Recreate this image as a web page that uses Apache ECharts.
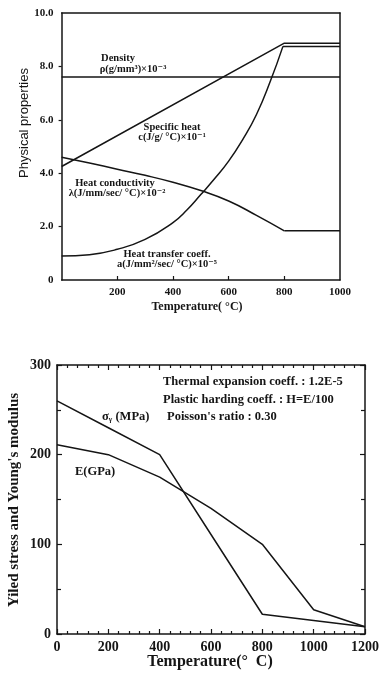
<!DOCTYPE html>
<html>
<head>
<meta charset="utf-8">
<script src="https://cdn.jsdelivr.net/npm/echarts@6/dist/echarts.min.js"></script>
<style>
  html, body { margin: 0; padding: 0; background: #fff; }
  #chart { width: 382px; height: 679px; }
</style>
</head>
<body>
<div id="chart"></div>
<script>
// ---- Upper panel: physical properties vs temperature ----
const densityTemp = [0, 1000];
const density = [7.6, 7.6];

const specHeatTemp = [0, 800, 1000];
const specHeat = [4.25, 8.87, 8.87];

const condTemp = [0, 100, 200, 300, 400, 500, 600, 700, 800];
const conductivity = [4.6, 4.38, 4.15, 3.92, 3.66, 3.35, 2.96, 2.42, 1.84];
const condFlatTemp = [800, 1000];
const condFlat = [1.84, 1.84];

const htCurveTemp = [0, 100, 200, 300, 400, 450, 500, 550, 600, 650, 700, 750, 795];
const htCurve = [0.9, 0.95, 1.15, 1.52, 2.15, 2.62, 3.2, 3.8, 4.45, 5.25, 6.2, 7.45, 8.75];
const htFlatTemp = [795, 1000];
const htFlat = [8.75, 8.75];

const topXTicks = [200, 400, 600, 800, 1000];
const topYTicks = [0, 2, 4, 6, 8, 10];

// ---- Lower panel: yield stress and Young's modulus ----
const lowTemp = [0, 200, 400, 600, 800, 1000, 1200];
const yieldStress = [260, 230, 200, 111, 22, 15, 8];
const youngsModulus = [211, 200, 175, 140, 100, 27, 8];

const pairs = (xs, ys) => xs.map((x, i) => [x, ys[i]]);

const INK = '#151515';
const SERIF = '"Liberation Serif", "DejaVu Serif", serif';
const SANS = '"Liberation Sans", "DejaVu Sans", sans-serif';

const chart = echarts.init(document.getElementById('chart'), null, { renderer: 'canvas' });

const lineStyle = { color: INK, width: 1.5 };
function lineSeries(data, xi, yi, extra) {
  return Object.assign({
    type: 'line', data: data, xAxisIndex: xi, yAxisIndex: yi,
    showSymbol: false, symbol: 'none', lineStyle: lineStyle,
    animation: false, silent: true
  }, extra || {});
}

const axisLine = { show: true, onZero: false, lineStyle: { color: INK, width: 1.5 } };

function annot(x, y, text, font, align) {
  return {
    type: 'text', x: x, y: y, silent: true,
    style: {
      text: text, font: font, fill: INK,
      textAlign: align || 'center', textVerticalAlign: 'middle'
    }
  };
}

const option = {
  backgroundColor: '#fff',
  animation: false,
  grid: [
    { left: 61.6, top: 13, width: 278.4, height: 267 },
    { left: 57, top: 365, width: 311, height: 269 }
  ],
  xAxis: [
    {
      gridIndex: 0, type: 'value', min: 0, max: 1000, interval: 200,
      axisLine: axisLine,
      axisTick: { show: true, inside: true, length: 4, lineStyle: { color: INK, width: 1.2 },
                  customValues: topXTicks.slice(0, 4) },
      axisLabel: { color: INK, fontFamily: SERIF, fontWeight: 'bold', fontSize: 11, margin: 7,
                   formatter: v => (v === 0 ? '' : String(v)) },
      splitLine: { show: false }
    },
    {
      gridIndex: 0, type: 'value', position: 'top', min: 0, max: 1000,
      axisLine: axisLine, axisTick: { show: false }, axisLabel: { show: false },
      splitLine: { show: false }
    },
    {
      gridIndex: 1, type: 'value', min: 0, max: 1200, interval: 200,
      axisLine: axisLine,
      axisTick: { show: true, inside: true, length: 5, lineStyle: { color: INK, width: 1.2 } },
      minorTick: { show: true, splitNumber: 5, length: 3, lineStyle: { color: INK, width: 1.2 } },
      axisLabel: { color: INK, fontFamily: SERIF, fontWeight: 'bold', fontSize: 14, margin: 6,
                   formatter: v => String(v) },
      splitLine: { show: false }
    },
    {
      gridIndex: 1, type: 'value', position: 'top', min: 0, max: 1200, interval: 200,
      axisLine: axisLine,
      axisTick: { show: true, inside: true, length: 5, lineStyle: { color: INK, width: 1.2 } },
      minorTick: { show: true, splitNumber: 5, length: 3, lineStyle: { color: INK, width: 1.2 } },
      axisLabel: { show: false }, splitLine: { show: false }
    }
  ],
  yAxis: [
    {
      gridIndex: 0, type: 'value', min: 0, max: 10, interval: 2,
      axisLine: axisLine,
      axisTick: { show: true, inside: false, length: 3, lineStyle: { color: INK, width: 1.2 },
                  customValues: topYTicks.slice(1, 5) },
      axisLabel: { color: INK, fontFamily: SERIF, fontWeight: 'bold', fontSize: 11, margin: 8,
                   formatter: v => (v === 0 ? '0' : v.toFixed(1)) },
      splitLine: { show: false }
    },
    {
      gridIndex: 0, type: 'value', position: 'right', min: 0, max: 10,
      axisLine: axisLine, axisTick: { show: false }, axisLabel: { show: false },
      splitLine: { show: false }
    },
    {
      gridIndex: 1, type: 'value', min: 0, max: 300, interval: 100,
      axisLine: axisLine,
      axisTick: { show: true, inside: true, length: 5, lineStyle: { color: INK, width: 1.2 } },
      minorTick: { show: true, splitNumber: 2, length: 4, lineStyle: { color: INK, width: 1.2 } },
      axisLabel: { color: INK, fontFamily: SERIF, fontWeight: 'bold', fontSize: 14, margin: 6 },
      splitLine: { show: false }
    },
    {
      gridIndex: 1, type: 'value', position: 'right', min: 0, max: 300, interval: 100,
      axisLine: axisLine,
      axisTick: { show: true, inside: true, length: 5, lineStyle: { color: INK, width: 1.2 } },
      minorTick: { show: true, splitNumber: 2, length: 4, lineStyle: { color: INK, width: 1.2 } },
      axisLabel: { show: false }, splitLine: { show: false }
    }
  ],
  series: [
    lineSeries(pairs(densityTemp, density), 0, 0),
    lineSeries(pairs(specHeatTemp, specHeat), 0, 0),
    lineSeries(pairs(condTemp, conductivity), 0, 0, { smooth: 0.5 }),
    lineSeries(pairs(condFlatTemp, condFlat), 0, 0),
    lineSeries(pairs(htCurveTemp, htCurve), 0, 0, { smooth: 0.5 }),
    lineSeries(pairs(htFlatTemp, htFlat), 0, 0),
    lineSeries(pairs(lowTemp, yieldStress), 2, 2),
    lineSeries(pairs(lowTemp, youngsModulus), 2, 2)
  ],
  graphic: [
    // upper panel curve labels
    annot(118, 58, 'Density', 'bold 10.5px ' + SERIF),
    annot(133, 69, 'ρ(g/mm³)×10⁻³', 'bold 10.5px ' + SERIF),
    annot(172, 127, 'Specific heat', 'bold 10.5px ' + SERIF),
    annot(172, 137, 'c(J/g/ °C)×10⁻¹', 'bold 10.5px ' + SERIF),
    annot(115, 183, 'Heat conductivity', 'bold 10.5px ' + SERIF),
    annot(117, 193, 'λ(J/mm/sec/ °C)×10⁻²', 'bold 10.5px ' + SERIF),
    annot(167, 254, 'Heat transfer coeff.', 'bold 10.5px ' + SERIF),
    annot(167, 264, 'a(J/mm²/sec/ °C)×10⁻⁵', 'bold 10.5px ' + SERIF),
    annot(197, 307, 'Temperature( °C)', 'bold 12px ' + SERIF),
    Object.assign(annot(24, 123, 'Physical properties', '13px ' + SANS), { rotation: Math.PI / 2 }),
    // lower panel notes
    annot(163, 382, 'Thermal expansion coeff. : 1.2E-5', 'bold 12.5px ' + SERIF, 'left'),
    annot(163, 400, 'Plastic harding coeff. : H=E/100', 'bold 12.5px ' + SERIF, 'left'),
    annot(167, 417, "Poisson's ratio : 0.30", 'bold 12.5px ' + SERIF, 'left'),
    annot(102, 417, 'σᵧ (MPa)', 'bold 12.5px ' + SERIF, 'left'),
    annot(75, 472, 'E(GPa)', 'bold 12.5px ' + SERIF, 'left'),
    annot(210, 662, 'Temperature(°  C)', 'bold 16px ' + SERIF),
    Object.assign(annot(14, 500, "Yiled stress and Young's modulus", 'bold 15px ' + SERIF), { rotation: Math.PI / 2 })
  ]
};

chart.setOption(option);
</script>
</body>
</html>
